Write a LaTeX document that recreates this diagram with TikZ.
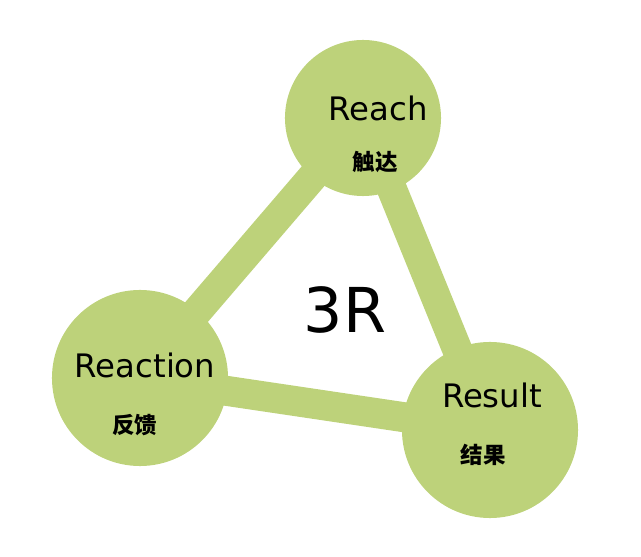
\documentclass[tikz,border=0pt]{standalone}
\usepackage{fontspec}
\setmainfont{DejaVu Sans}
\newfontfamily\cjk{Noto Sans CJK SC}
\definecolor{leaf}{RGB}{189,210,122}
\begin{document}
\begin{tikzpicture}[x=0.025cm,y=-0.025cm]
    \tikzset{
      ball/.style={circle, fill=leaf, inner sep=0pt},
      bar/.style={leaf, line width=0.75cm},
      title/.style={font=\fontsize{23}{25}\selectfont},
      sub/.style={font=\cjk\bfseries\fontsize{16}{18}\selectfont}
    }
    \useasboundingbox (0,0) rectangle (641,557);
    \coordinate (reach) at (363,118);
    \coordinate (reaction) at (140,378);
    \coordinate (result) at (490,430);
    \draw[bar] (reach) -- (reaction);
    \draw[bar] (reach) -- (result);
    \draw[bar] (reaction) -- (result);
    \node[ball, minimum size=3.9cm] (reachball) at (reach) {};
    \node[ball, minimum size=4.4cm] (reactionball) at (reaction) {};
    \node[ball, minimum size=4.4cm] (resultball) at (result) {};
    \node[title] (reachtxt) at (378,108) {Reach};
    \node[sub] (reachcn) at (375,162) {触达};
    \node[title] (reactiontxt) at (145,365) {Reaction};
    \node[sub] (reactioncn) at (135,425) {反馈};
    \node[title] (resulttxt) at (492,395) {Result};
    \node[sub] (resultcn) at (483,455) {结果};
    \node[font=\fontsize{44}{46}\selectfont] (core) at (345,310) {3R};
  \end{tikzpicture}
\end{document}
